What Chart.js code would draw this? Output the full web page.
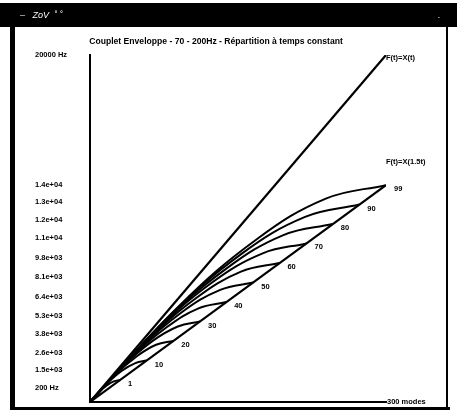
<!DOCTYPE html>
<html>
<head>
<meta charset="utf-8">
<script src="https://cdn.jsdelivr.net/npm/chart.js@4.4.0/dist/chart.umd.min.js"></script>
<style>
  html, body { margin: 0; padding: 0; background: #fff; overflow: hidden; }
  #wrap { width: 457px; height: 414px; }
</style>
</head>
<body>
<div id="wrap"><canvas id="chart"></canvas></div>
<script>
// values
const titleText = 'Couplet Enveloppe - 70 - 200Hz - Répartition à temps constant';
const modeLabels = ['1', '10', '20', '30', '40', '50', '60', '70', '80', '90', '99'];

// y axis tick marks (Hz scale) and their printed labels
const tickValues = [800, 1850, 2820, 3920, 4960, 6050, 7200, 8300, 9450, 10500, 11530, 12500, 20000];
const tickLabels = ['200 Hz', '1.5e+03', '2.6e+03', '3.8e+03', '5.3e+03', '6.4e+03', '8.1e+03',
                    '9.8e+03', '1.1e+04', '1.2e+04', '1.3e+04', '1.4e+04', '20000 Hz'];

// the two straight lines, ending at the right edge
const upperEnd = { x: 300, y: 20000 };
const lowerEnd = { x: 300, y: 12500 };

// each curve: origin, three read points, end point on the lower line
const q1X  = [9, 17, 25, 33, 41, 49, 57, 65, 73, 81, 89];
const q1Y  = [560, 1050, 1540, 2030, 2520, 3010, 3500, 4000, 4490, 4980, 5470];
const midX = [17, 32, 47.5, 62.5, 78, 93, 108, 123, 138.5, 153.5, 169];
const midY = [950, 1790, 2640, 3480, 4320, 5170, 6010, 6860, 7700, 8540, 9380];
const q3X  = [24, 46, 67, 89, 110, 132, 153, 175, 196, 218, 239];
const q3Y  = [1190, 2240, 3300, 4350, 5400, 6460, 7510, 8570, 9620, 10670, 11720];
const endX = [30.5, 57.5, 84.5, 111.5, 138, 165.5, 192, 219.5, 246, 273, 300];
const endY = [1270, 2390, 3520, 4640, 5760, 6890, 8010, 9140, 10260, 11380, 12500];

const FONT = '"Liberation Sans", Arial, sans-serif';

const curveSets = endX.map((ex, i) => ({
  label: modeLabels[i],
  data: [
    { x: 0, y: 0 },
    { x: q1X[i], y: q1Y[i] },
    { x: midX[i], y: midY[i] },
    { x: q3X[i], y: q3Y[i] },
    { x: ex, y: endY[i] }
  ],
  borderColor: '#000',
  borderWidth: 2,
  pointRadius: 0,
  tension: 0.4,
  showLine: true
}));

const lineSets = [
  { label: 'F(t)=X(t)', data: [{ x: 0, y: 0 }, upperEnd] },
  { label: 'F(t)=X(1.5t)', data: [{ x: 0, y: 0 }, lowerEnd] }
].map(d => Object.assign(d, {
  borderColor: '#000', borderWidth: 2.2, pointRadius: 0, showLine: true, tension: 0
}));

// window frame and free texts
const decor = {
  id: 'decor',
  beforeDraw(chart) {
    const ctx = chart.ctx;
    ctx.save();
    ctx.fillStyle = '#fff';
    ctx.fillRect(0, 0, chart.width, chart.height);
    ctx.fillStyle = '#000';
    ctx.fillRect(0, 3, chart.width, 24);
    ctx.fillRect(10, 27, 5, 383);
    ctx.fillRect(10, 407, 440, 3);
    ctx.fillRect(446, 27, 2, 383);
    ctx.fillStyle = '#fff';
    ctx.font = 'italic 9px ' + FONT;
    ctx.textBaseline = 'middle';
    ctx.fillText('–   ZoV  ˚ ˚', 20, 15);
    ctx.fillText('.', 438, 15);
    ctx.restore();
  },
  afterDraw(chart) {
    const ctx = chart.ctx;
    const xs = chart.scales.x, ys = chart.scales.y;
    ctx.save();
    ctx.fillStyle = '#000';
    ctx.textBaseline = 'middle';
    ctx.font = 'bold 8.6px ' + FONT;
    ctx.textAlign = 'center';
    ctx.fillText(titleText, 216, 42);
    ctx.textAlign = 'left';
    ctx.font = 'bold 7.5px ' + FONT;
    ctx.fillText('F(t)=X(t)', xs.getPixelForValue(upperEnd.x), ys.getPixelForValue(upperEnd.y) + 3);
    ctx.fillText('F(t)=X(1.5t)', xs.getPixelForValue(lowerEnd.x), ys.getPixelForValue(lowerEnd.y) - 23);
    ctx.fillText('300 modes', xs.right + 1, ys.bottom);
    endX.forEach((ex, i) => {
      ctx.fillText(modeLabels[i], xs.getPixelForValue(ex) + 8, ys.getPixelForValue(endY[i]) + 4);
    });
    ctx.restore();
  }
};

new Chart(document.getElementById('chart'), {
  type: 'scatter',
  data: { datasets: lineSets.concat(curveSets) },
  options: {
    responsive: true,
    maintainAspectRatio: false,
    animation: false,
    layout: { padding: { left: 35, right: 71, top: 55, bottom: 12 } },
    plugins: { legend: { display: false }, title: { display: false }, tooltip: { enabled: false } },
    scales: {
      x: {
        type: 'linear', min: 0, max: 300,
        ticks: { display: false },
        grid: { display: true, drawOnChartArea: false, drawTicks: false },
        border: { display: true, color: '#000', width: 2 },
        afterFit(scale) { scale.height = 0; }
      },
      y: {
        type: 'linear', min: 0, max: 20000,
        afterBuildTicks(scale) { scale.ticks = tickValues.map(v => ({ value: v })); },
        ticks: {
          autoSkip: false,
          crossAlign: 'far',
          color: '#000',
          font: { family: FONT, size: 7.5, weight: 'bold' },
          callback: (v, i) => tickLabels[i]
        },
        grid: { display: true, drawOnChartArea: false, drawTicks: false },
        border: { display: true, color: '#000', width: 2 },
        afterFit(scale) { scale.width = 55; }
      }
    }
  },
  plugins: [decor]
});
</script>
</body>
</html>
